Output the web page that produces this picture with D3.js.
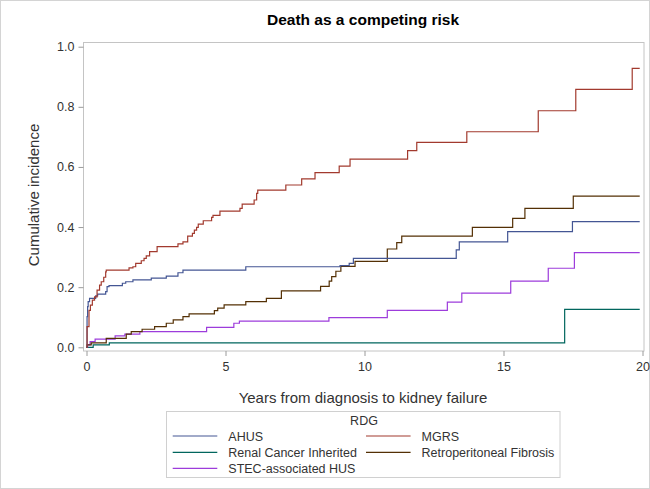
<!DOCTYPE html>
<html><head><meta charset="utf-8">
<script src="https://cdn.jsdelivr.net/npm/d3@7/dist/d3.min.js"></script>
<style>body{margin:0;background:#fff}svg{display:block;font-family:Arial,"Liberation Sans",sans-serif}</style>
</head><body><svg id="c" width="650" height="489"></svg>
<script>
const seriesNames = ["AHUS","MGRS","Renal Cancer Inherited","Retroperitoneal Fibrosis","STEC-associated HUS"];
const seriesColors = ["#445694","#A23A2E","#01665E","#543005","#9D3CDB"];
const xTicks = [0,5,10,15,20];
const yTicks = [0,0.2,0.4,0.6,0.8,1.0];

const ahusT = [0,0.02,0.04,0.06,0.11,0.33,0.40,0.69,0.74,0.81,1.29,1.41,1.67,2.33,2.87,3.29,3.47,5.73,9.12,9.45,9.6,13.3,13.41,15.15,17.48,19.9];
const ahusV = [0,0.102,0.135,0.152,0.163,0.171,0.177,0.185,0.202,0.205,0.213,0.218,0.224,0.23,0.237,0.248,0.257,0.268,0.272,0.279,0.296,0.324,0.351,0.385,0.418,0.418];

const mgrsT = [0,0.02,0.09,0.14,0.21,0.29,0.38,0.47,0.53,0.62,0.69,0.71,1.53,1.67,1.77,1.97,2.07,2.15,2.27,2.54,3.29,3.47,3.64,3.81,3.88,3.96,4.02,4.2,4.5,4.55,4.8,5.52,5.6,6.03,6.12,6.16,7.17,7.74,8.22,9.09,9.48,11.55,11.88,13.68,16.25,17.6,19.63,19.9];
const mgrsV = [0,0.069,0.123,0.14,0.157,0.168,0.19,0.207,0.218,0.233,0.251,0.257,0.264,0.268,0.279,0.288,0.296,0.304,0.318,0.335,0.344,0.351,0.370,0.379,0.39,0.399,0.41,0.421,0.432,0.439,0.453,0.462,0.476,0.49,0.512,0.523,0.54,0.56,0.581,0.603,0.626,0.654,0.682,0.717,0.787,0.858,0.928,0.928];

const renalT = [0,0.24,0.82,17.2,19.9];
const renalV = [0,0.008,0.015,0.126,0.126];

const retroT = [0,0.02,0.17,0.71,1.43,1.61,2.0,2.45,2.87,3.12,3.47,3.69,4.6,4.72,4.95,5.73,6.47,7.01,8.42,8.73,8.82,8.97,9.15,9.66,10.82,11.16,11.34,13.88,15.33,15.77,17.51,19.9];
const retroV = [0,0.008,0.015,0.03,0.044,0.052,0.06,0.069,0.08,0.091,0.102,0.111,0.122,0.13,0.141,0.152,0.163,0.188,0.203,0.22,0.235,0.253,0.269,0.286,0.327,0.348,0.37,0.399,0.429,0.462,0.503,0.503];

const stecT = [0,0.04,0.13,0.31,1.03,1.38,1.92,4.32,5.3,5.5,8.72,10.82,12.98,13.5,15.26,16.61,17.55,19.9];
const stecV = [0,0.008,0.019,0.027,0.038,0.044,0.052,0.066,0.08,0.087,0.099,0.123,0.15,0.18,0.22,0.263,0.315,0.315];

const seriesT = [ahusT,mgrsT,renalT,retroT,stecT];
const seriesV = [ahusV,mgrsV,renalV,retroV,stecV];

const svg = d3.select("#c");
svg.append("rect").attr("x",0.5).attr("y",0.5).attr("width",649).attr("height",488)
  .attr("fill","#fff").attr("stroke","#d4d4d4");

const x = d3.scaleLinear().domain([0,20]).range([86.5,642.5]);
const y = d3.scaleLinear().domain([0,1]).range([347.3,46.7]);
const frame = {l:83.5,t:42.5,r:644,b:351};

svg.append("text").attr("x",363).attr("y",24.5).attr("text-anchor","middle")
  .attr("font-size",15.5).attr("font-weight","bold").attr("fill","#000").text("Death as a competing risk");

svg.append("rect").attr("x",frame.l).attr("y",frame.t).attr("width",frame.r-frame.l).attr("height",frame.b-frame.t)
  .attr("fill","none").attr("stroke","#c4c4c4");

const xa = svg.append("g").attr("transform",`translate(0,${frame.b})`)
  .call(d3.axisBottom(x).tickValues(xTicks).tickFormat(d3.format("d")).tickSize(5).tickPadding(6));
const ya = svg.append("g").attr("transform",`translate(${frame.l},0)`)
  .call(d3.axisLeft(y).tickValues(yTicks).tickFormat(d3.format(".1f")).tickSize(5).tickPadding(4));
[xa,ya].forEach(a=>{
  a.select(".domain").remove();
  a.selectAll("line").attr("stroke","#9a9a9a");
  a.selectAll("text").attr("font-size",12.5).attr("fill","#333").attr("font-family","Arial,'Liberation Sans',sans-serif");
});

svg.append("text").attr("x",363).attr("y",403).attr("text-anchor","middle")
  .attr("font-size",15).attr("fill","#333").text("Years from diagnosis to kidney failure");
svg.append("text").attr("transform","translate(39,195) rotate(-90)").attr("text-anchor","middle")
  .attr("font-size",15).attr("fill","#333").text("Cumulative incidence");

const line = d3.line().curve(d3.curveStepAfter).x(d=>x(d[0])).y(d=>y(d[1]));
const g = svg.append("g");
[2,4,3,0,1].forEach(i=>{
  const pts = seriesT[i].map((t,j)=>[t,seriesV[i][j]]);
  g.append("path").attr("d",line(pts)).attr("fill","none").attr("stroke",seriesColors[i]).attr("stroke-width",1.2);
});

const lg = svg.append("g");
lg.append("rect").attr("x",166.5).attr("y",411.5).attr("width",393.5).attr("height",66)
  .attr("fill","#fff").attr("stroke","#d0d0d0");
lg.append("text").attr("x",364).attr("y",424.5).attr("text-anchor","middle").attr("font-size",12.5).attr("fill","#333").text("RDG");
const pos = [[172.7,440.5],[366,440.5],[172.7,456.8],[366,456.8],[172.7,472.8]];
seriesNames.forEach((n,i)=>{
  const [lx,ly] = pos[i];
  lg.append("line").attr("x1",lx).attr("x2",lx+44.6).attr("y1",ly-4.5).attr("y2",ly-4.5)
    .attr("stroke",seriesColors[i]).attr("stroke-width",1.2);
  lg.append("text").attr("x",lx+55.6).attr("y",ly).attr("font-size",12.5).attr("fill","#333").text(n);
});
</script></body></html>
